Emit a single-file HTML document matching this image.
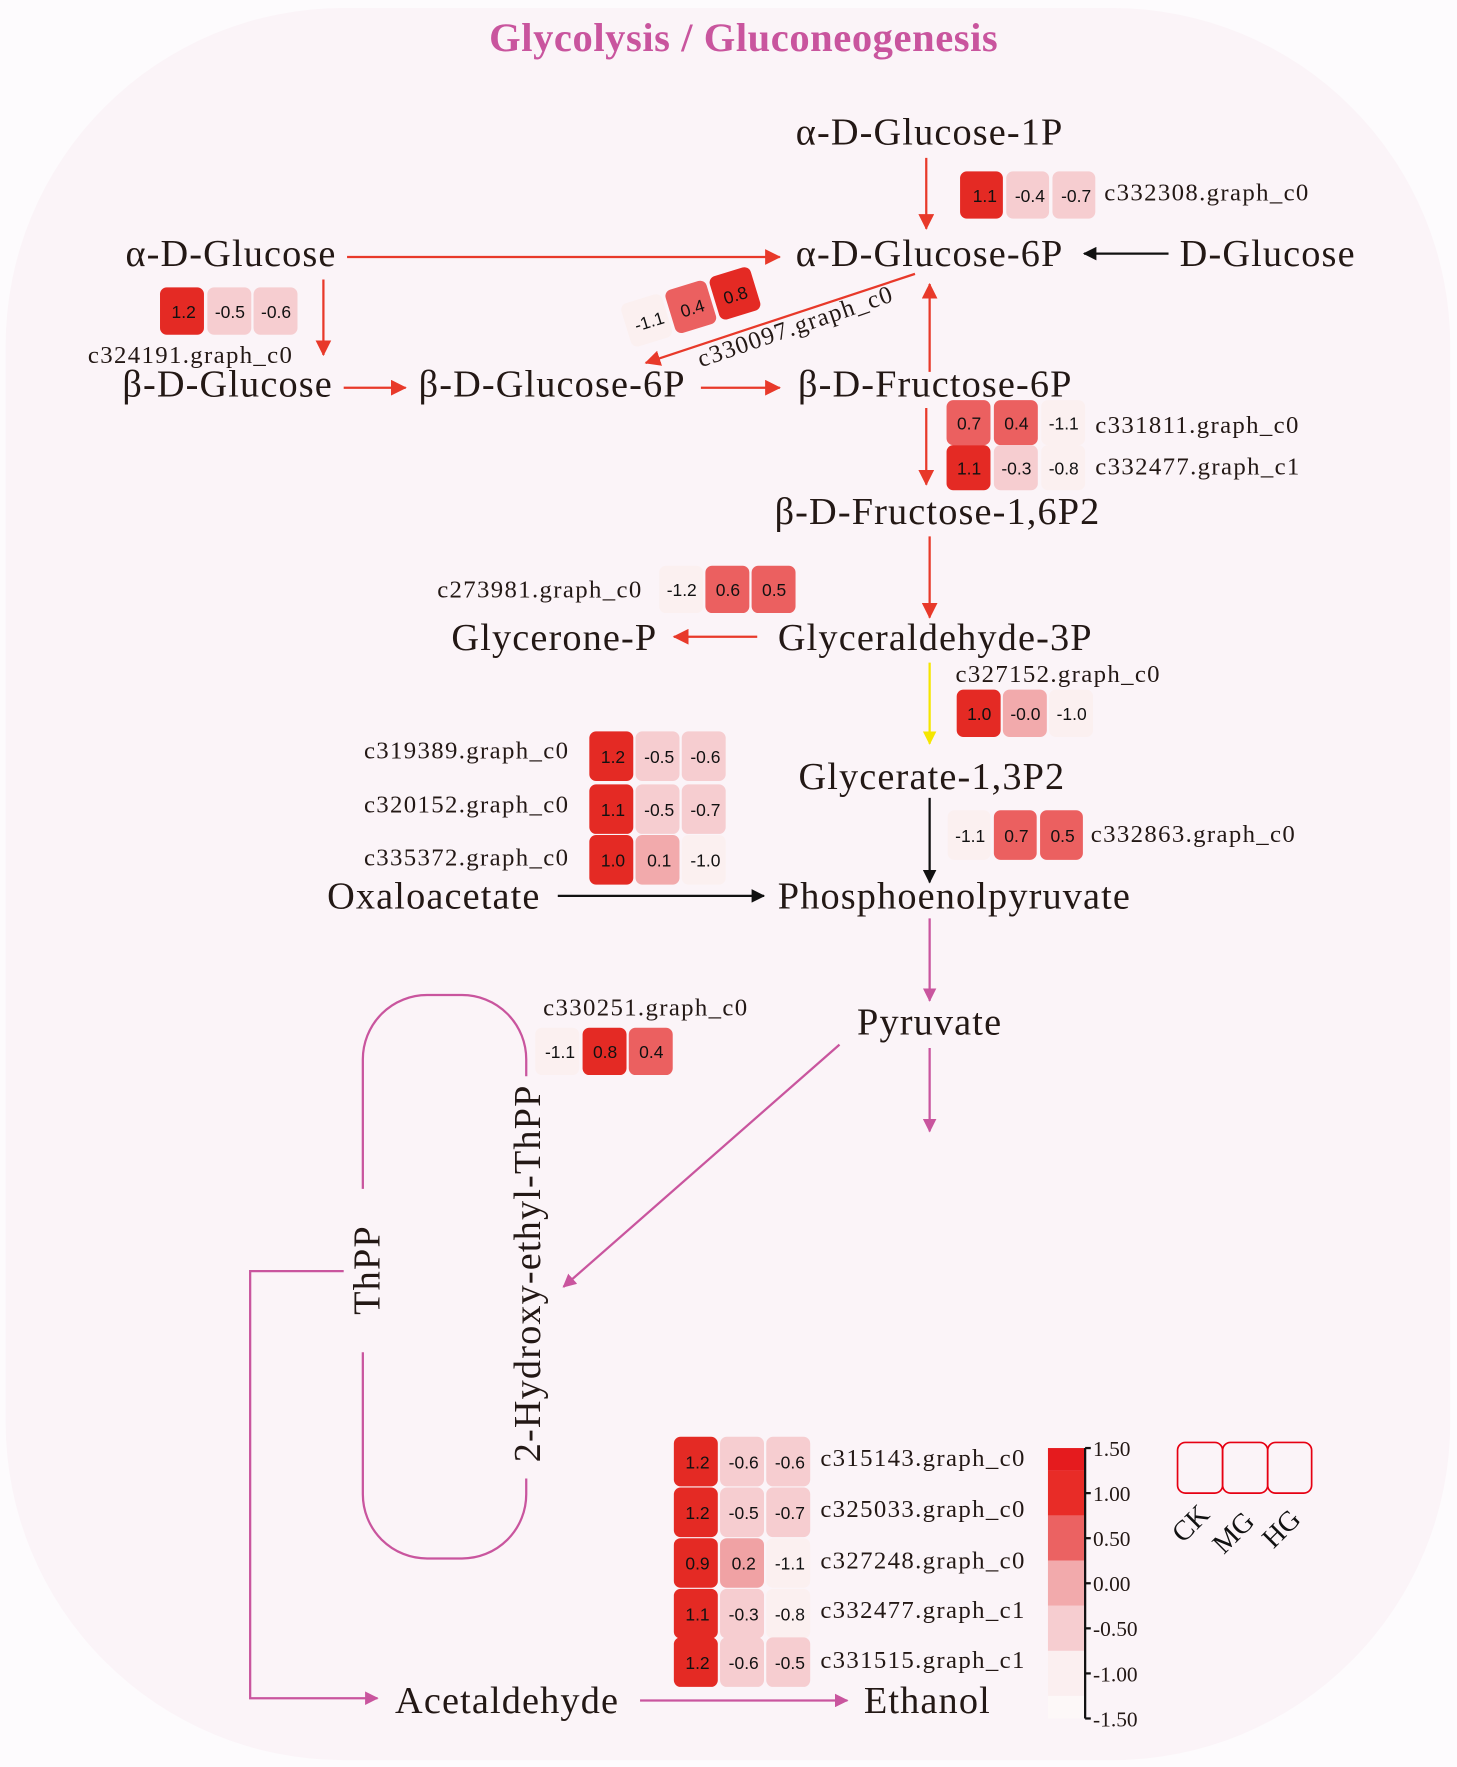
<!DOCTYPE html>
<html><head><meta charset="utf-8"><style>
html,body{margin:0;padding:0;background:#fdfbfd;}
svg{display:block}
.n{font-family:"Liberation Serif",serif;font-size:34px;letter-spacing:1px;fill:#231815;text-anchor:middle}
.l{font-family:"Liberation Serif",serif;font-size:22px;letter-spacing:1.2px;fill:#231815}
.v{font-family:"Liberation Sans",sans-serif;font-size:15.5px;fill:#111;text-anchor:middle}
.g{font-family:"Liberation Serif",serif;font-size:19px;fill:#231815}
</style></head><body>
<svg width="1457" height="1767" viewBox="0 0 1293 1568" xmlns="http://www.w3.org/2000/svg">
<defs>
<marker id="ab" markerWidth="12" markerHeight="12" refX="11" refY="6" orient="auto" markerUnits="userSpaceOnUse" viewBox="0 0 12 12"><path d="M0,0 L12,6 L0,12z" fill="#111"/></marker>
<marker id="ay" markerWidth="12" markerHeight="12" refX="11" refY="6" orient="auto" markerUnits="userSpaceOnUse" viewBox="0 0 12 12"><path d="M0,0 L12,6 L0,12z" fill="#f5e600"/></marker>
<marker id="ap" markerWidth="12" markerHeight="12" refX="11" refY="6" orient="auto" markerUnits="userSpaceOnUse" viewBox="0 0 12 12"><path d="M0,0 L12,6 L0,12z" fill="#c9559e"/></marker>
<marker id="ar2" markerWidth="14" markerHeight="14" refX="13" refY="7" orient="auto" markerUnits="userSpaceOnUse" viewBox="0 0 14 14"><path d="M0,0 L14,7 L0,14z" fill="#e8392a"/></marker>
</defs>
<rect x="0" y="0" width="1293" height="1568" fill="#fdfbfd"/>
<rect x="5" y="7" width="1282" height="1555" rx="300" ry="300" fill="#fbf4f8"/>
<text x="660" y="45" font-family="Liberation Serif,serif" font-weight="bold" font-size="36" fill="#c9559e" text-anchor="middle" letter-spacing="0.5">Glycolysis / Gluconeogenesis</text>

<g stroke="#e8392a" stroke-width="2" fill="none">
<line x1="822" y1="140" x2="822" y2="203" marker-end="url(#ar2)"/>
<line x1="308" y1="228" x2="692" y2="228" marker-end="url(#ar2)"/>
<line x1="287" y1="248" x2="287" y2="315" marker-end="url(#ar2)"/>
<line x1="305" y1="344" x2="360" y2="344" marker-end="url(#ar2)"/>
<line x1="622" y1="344" x2="692" y2="344" marker-end="url(#ar2)"/>
<line x1="825" y1="330" x2="825" y2="252" marker-end="url(#ar2)"/>
<line x1="812" y1="243" x2="573" y2="322" marker-end="url(#ar2)"/>
<line x1="822" y1="362" x2="822" y2="430" marker-end="url(#ar2)"/>
<line x1="825" y1="476" x2="825" y2="548" marker-end="url(#ar2)"/>
<line x1="672" y1="565" x2="598" y2="565" marker-end="url(#ar2)"/>
</g>
<line x1="1037" y1="225" x2="962" y2="225" stroke="#111" stroke-width="2" marker-end="url(#ab)"/>
<line x1="825" y1="588" x2="825" y2="660" stroke="#f5e600" stroke-width="2" marker-end="url(#ay)"/>
<line x1="825" y1="708" x2="825" y2="783" stroke="#111" stroke-width="2" marker-end="url(#ab)"/>
<line x1="495" y1="795" x2="678" y2="795" stroke="#111" stroke-width="2" marker-end="url(#ab)"/>
<g stroke="#c9559e" stroke-width="2" fill="none">
<line x1="825" y1="815" x2="825" y2="888" marker-end="url(#ap)"/>
<line x1="825" y1="930" x2="825" y2="1004" marker-end="url(#ap)"/>
<line x1="745" y1="927" x2="500" y2="1142" marker-end="url(#ap)"/>
<path d="M322,1055 L322,940 A57,57 0 0 1 379,883 L410,883 A57,57 0 0 1 467,940 L467,955"/>
<path d="M322,1200 L322,1326 A57,57 0 0 0 379,1383 L410,1383 A57,57 0 0 0 467,1326 L467,1312"/>
<path d="M305,1128 L222,1128 L222,1507 L335,1507" marker-end="url(#ap)"/>
<line x1="568" y1="1509" x2="752" y2="1509" marker-end="url(#ap)"/>
</g>

<text class="n" x="825" y="128">α-D-Glucose-1P</text>
<text class="n" x="825" y="236">α-D-Glucose-6P</text>
<text class="n" x="205" y="236">α-D-Glucose</text>
<text class="n" x="1125" y="236">D-Glucose</text>
<text class="n" x="202" y="352">β-D-Glucose</text>
<text class="n" x="490" y="352">β-D-Glucose-6P</text>
<text class="n" x="830" y="352">β-D-Fructose-6P</text>
<text class="n" x="832" y="465">β-D-Fructose-1,6P2</text>
<text class="n" x="830" y="577">Glyceraldehyde-3P</text>
<text class="n" x="492" y="577">Glycerone-P</text>
<text class="n" x="827" y="700">Glycerate-1,3P2</text>
<text class="n" x="385" y="806">Oxaloacetate</text>
<text class="n" x="847" y="806">Phosphoenolpyruvate</text>
<text class="n" x="825" y="918">Pyruvate</text>
<text class="n" x="450" y="1520">Acetaldehyde</text>
<text class="n" x="823" y="1520">Ethanol</text>
<text class="n" transform="translate(337,1127) rotate(-90)">ThPP</text>
<text class="n" transform="translate(479,1130) rotate(-90)">2-Hydroxy-ethyl-ThPP</text>

<g>
<rect x="852" y="152" width="38" height="42" rx="6" fill="#e42a24"/><text class="v" x="874" y="179">1.1</text>
<rect x="893" y="152" width="38" height="42" rx="6" fill="#f6cdd0"/><text class="v" x="914" y="179">-0.4</text>
<rect x="934" y="152" width="38" height="42" rx="6" fill="#f6cdd0"/><text class="v" x="955" y="179">-0.7</text>
<text class="l" x="980" y="178">c332308.graph_c0</text>
<rect x="142" y="255" width="39" height="42" rx="6" fill="#e42a24"/><text class="v" x="163" y="282">1.2</text>
<rect x="184" y="255" width="39" height="42" rx="6" fill="#f6cdd0"/><text class="v" x="204" y="282">-0.5</text>
<rect x="225" y="255" width="39" height="42" rx="6" fill="#f6cdd0"/><text class="v" x="245" y="282">-0.6</text>
<text class="l" x="78" y="322">c324191.graph_c0</text>
<g transform="translate(614,272) rotate(-17)">
<rect x="-61" y="-20" width="38" height="40" rx="6" fill="#fbf0f0"/><text class="v" x="-40" y="7">-1.1</text>
<rect x="-20" y="-20" width="38" height="40" rx="6" fill="#eb6060"/><text class="v" x="0" y="7">0.4</text>
<rect x="21" y="-20" width="38" height="40" rx="6" fill="#e42a24"/><text class="v" x="40" y="7">0.8</text>
</g>
<text class="l" transform="translate(622,326) rotate(-19)">c330097.graph_c0</text>
<rect x="840" y="355" width="39" height="40" rx="6" fill="#eb6060"/><text class="v" x="860" y="381">0.7</text>
<rect x="882" y="355" width="39" height="40" rx="6" fill="#eb6060"/><text class="v" x="902" y="381">0.4</text>
<rect x="924" y="355" width="39" height="40" rx="6" fill="#fbf0f0"/><text class="v" x="944" y="381">-1.1</text>
<text class="l" x="972" y="384">c331811.graph_c0</text>
<rect x="840" y="395" width="39" height="40" rx="6" fill="#e42a24"/><text class="v" x="860" y="421">1.1</text>
<rect x="882" y="395" width="39" height="40" rx="6" fill="#f6cdd0"/><text class="v" x="902" y="421">-0.3</text>
<rect x="924" y="395" width="39" height="40" rx="6" fill="#fbf0f0"/><text class="v" x="944" y="421">-0.8</text>
<text class="l" x="972" y="421">c332477.graph_c1</text>
<text class="l" x="388" y="530">c273981.graph_c0</text>
<rect x="585" y="502" width="39" height="42" rx="6" fill="#fbf0f0"/><text class="v" x="605" y="529">-1.2</text>
<rect x="626" y="502" width="39" height="42" rx="6" fill="#eb6060"/><text class="v" x="646" y="529">0.6</text>
<rect x="667" y="502" width="39" height="42" rx="6" fill="#eb6060"/><text class="v" x="687" y="529">0.5</text>
<text class="l" x="848" y="605">c327152.graph_c0</text>
<rect x="849" y="612" width="39" height="42" rx="6" fill="#e42a24"/><text class="v" x="869" y="639">1.0</text>
<rect x="890" y="612" width="39" height="42" rx="6" fill="#f2aaac"/><text class="v" x="910" y="639">-0.0</text>
<rect x="931" y="612" width="39" height="42" rx="6" fill="#fbf0f0"/><text class="v" x="951" y="639">-1.0</text>
<text class="l" x="323" y="673">c319389.graph_c0</text>
<rect x="523" y="649" width="39" height="44" rx="6" fill="#e42a24"/><text class="v" x="544" y="677">1.2</text>
<rect x="564" y="649" width="39" height="44" rx="6" fill="#f6cdd0"/><text class="v" x="585" y="677">-0.5</text>
<rect x="605" y="649" width="39" height="44" rx="6" fill="#f6cdd0"/><text class="v" x="626" y="677">-0.6</text>
<text class="l" x="323" y="721">c320152.graph_c0</text>
<rect x="523" y="696" width="39" height="44" rx="6" fill="#e42a24"/><text class="v" x="544" y="724">1.1</text>
<rect x="564" y="696" width="39" height="44" rx="6" fill="#f6cdd0"/><text class="v" x="585" y="724">-0.5</text>
<rect x="605" y="696" width="39" height="44" rx="6" fill="#f6cdd0"/><text class="v" x="626" y="724">-0.7</text>
<text class="l" x="323" y="768">c335372.graph_c0</text>
<rect x="523" y="741" width="39" height="44" rx="6" fill="#e42a24"/><text class="v" x="544" y="769">1.0</text>
<rect x="564" y="741" width="39" height="44" rx="6" fill="#f2aaac"/><text class="v" x="585" y="769">0.1</text>
<rect x="605" y="741" width="39" height="44" rx="6" fill="#fbf0f0"/><text class="v" x="626" y="769">-1.0</text>
<rect x="841" y="719" width="38" height="44" rx="6" fill="#fbf0f0"/><text class="v" x="861" y="747">-1.1</text>
<rect x="882" y="719" width="38" height="44" rx="6" fill="#eb6060"/><text class="v" x="902" y="747">0.7</text>
<rect x="923" y="719" width="38" height="44" rx="6" fill="#eb6060"/><text class="v" x="943" y="747">0.5</text>
<text class="l" x="968" y="747">c332863.graph_c0</text>
<text class="l" x="482" y="901">c330251.graph_c0</text>
<rect x="475" y="912" width="39" height="42" rx="6" fill="#fbf0f0"/><text class="v" x="497" y="939">-1.1</text>
<rect x="517" y="912" width="39" height="42" rx="6" fill="#e42a24"/><text class="v" x="537" y="939">0.8</text>
<rect x="558" y="912" width="39" height="42" rx="6" fill="#eb6060"/><text class="v" x="578" y="939">0.4</text>
<rect x="598" y="1275" width="39" height="44" rx="6" fill="#e42a24"/><text class="v" x="619" y="1303">1.2</text>
<rect x="639" y="1275" width="39" height="44" rx="6" fill="#f6cdd0"/><text class="v" x="660" y="1303">-0.6</text>
<rect x="680" y="1275" width="39" height="44" rx="6" fill="#f6cdd0"/><text class="v" x="701" y="1303">-0.6</text>
<text class="l" x="728" y="1301">c315143.graph_c0</text>
<rect x="598" y="1320" width="39" height="44" rx="6" fill="#e42a24"/><text class="v" x="619" y="1348">1.2</text>
<rect x="639" y="1320" width="39" height="44" rx="6" fill="#f6cdd0"/><text class="v" x="660" y="1348">-0.5</text>
<rect x="680" y="1320" width="39" height="44" rx="6" fill="#f6cdd0"/><text class="v" x="701" y="1348">-0.7</text>
<text class="l" x="728" y="1346">c325033.graph_c0</text>
<rect x="598" y="1365" width="39" height="44" rx="6" fill="#e42a24"/><text class="v" x="619" y="1393">0.9</text>
<rect x="639" y="1365" width="39" height="44" rx="6" fill="#f0a2a4"/><text class="v" x="660" y="1393">0.2</text>
<rect x="680" y="1365" width="39" height="44" rx="6" fill="#fbf0f0"/><text class="v" x="701" y="1393">-1.1</text>
<text class="l" x="728" y="1392">c327248.graph_c0</text>
<rect x="598" y="1410" width="39" height="44" rx="6" fill="#e42a24"/><text class="v" x="619" y="1438">1.1</text>
<rect x="639" y="1410" width="39" height="44" rx="6" fill="#f6cdd0"/><text class="v" x="660" y="1438">-0.3</text>
<rect x="680" y="1410" width="39" height="44" rx="6" fill="#fbf0f0"/><text class="v" x="701" y="1438">-0.8</text>
<text class="l" x="728" y="1436">c332477.graph_c1</text>
<rect x="598" y="1453" width="39" height="44" rx="6" fill="#e42a24"/><text class="v" x="619" y="1481">1.2</text>
<rect x="639" y="1453" width="39" height="44" rx="6" fill="#f6cdd0"/><text class="v" x="660" y="1481">-0.6</text>
<rect x="680" y="1453" width="39" height="44" rx="6" fill="#f6cdd0"/><text class="v" x="701" y="1481">-0.5</text>
<text class="l" x="728" y="1480">c331515.graph_c1</text>
</g>

<rect x="930" y="1285" width="33" height="20" fill="#e51b1e"/>
<rect x="930" y="1305" width="33" height="40" fill="#e82c27"/>
<rect x="930" y="1345" width="33" height="40" fill="#eb6262"/>
<rect x="930" y="1385" width="33" height="40" fill="#f2aaac"/>
<rect x="930" y="1425" width="33" height="40" fill="#f6cdd0"/>
<rect x="930" y="1465" width="33" height="40" fill="#fbeff0"/>
<rect x="930" y="1505" width="33" height="20" fill="#fdf8f8"/>
<g stroke="#111" stroke-width="2">
<line x1="963" y1="1285" x2="963" y2="1525"/>
<line x1="963" y1="1285" x2="968" y2="1285"/><line x1="963" y1="1325" x2="968" y2="1325"/>
<line x1="963" y1="1365" x2="968" y2="1365"/><line x1="963" y1="1405" x2="968" y2="1405"/>
<line x1="963" y1="1445" x2="968" y2="1445"/><line x1="963" y1="1485" x2="968" y2="1485"/>
<line x1="963" y1="1525" x2="968" y2="1525"/>
</g>
<g class="g">
<text x="970" y="1292">1.50</text><text x="970" y="1332">1.00</text><text x="970" y="1372">0.50</text>
<text x="970" y="1412">0.00</text><text x="970" y="1452">-0.50</text><text x="970" y="1492">-1.00</text>
<text x="970" y="1532">-1.50</text>
</g>
<g fill="none" stroke="#e60012" stroke-width="1.5">
<rect x="1045" y="1280" width="40" height="45" rx="7"/>
<rect x="1085" y="1280" width="40" height="45" rx="7"/>
<rect x="1125" y="1280" width="39" height="45" rx="7"/>
</g>
<g font-family="Liberation Serif,serif" font-size="25" fill="#111">
<text transform="translate(1050,1370) rotate(-45)">CK</text>
<text transform="translate(1086,1380) rotate(-45)">MG</text>
<text transform="translate(1130,1375) rotate(-45)">HG</text>
</g>
</svg>
</body></html>
